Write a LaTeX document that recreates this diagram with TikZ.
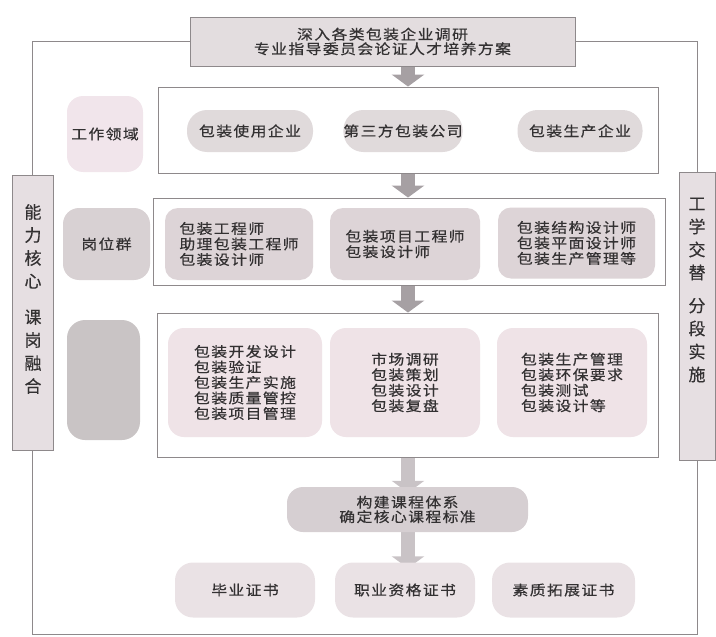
\documentclass[tikz,border=0pt]{standalone}
\usepackage{fontspec}
\setmainfont{Noto Sans CJK SC}
\newfontfamily\cjk[FakeStretch=1.13, LetterSpace=10, FakeBold=0.5]{Noto Sans CJK SC}
\newfontfamily\vcjk[FakeBold=0.4]{Noto Sans CJK SC}
\usetikzlibrary{arrows.meta,backgrounds}
\definecolor{txt}{HTML}{333132}
\definecolor{edge}{HTML}{8E898B}
\definecolor{topfill}{HTML}{E3DDDF}
\definecolor{sidefill}{HTML}{E6DFE2}
\definecolor{pinklab}{HTML}{F1E5EB}
\definecolor{pillgray}{HTML}{E0DADB}
\definecolor{graylab}{HTML}{D8D1D3}
\definecolor{rowtwo}{HTML}{DDD4D7}
\definecolor{darklab}{HTML}{C9C4C5}
\definecolor{rowthree}{HTML}{EFE3E7}
\definecolor{buildfill}{HTML}{D6CFD2}
\definecolor{certfill}{HTML}{EAE2E5}
\definecolor{arrowc}{HTML}{A6A0A3}
\definecolor{arrowl}{HTML}{C9C3C6}
\tikzset{
  base/.style={inner sep=0pt, text=txt, font=\cjk\fontsize{14}{15.5}\selectfont, align=center},
  framebox/.style={base, draw=edge, line width=0.9pt, fill=white},
  topbox/.style={base, draw=edge, line width=0.9pt, fill=topfill},
  sidebox/.style={base, draw=edge, line width=0.9pt, fill=sidefill},
  vlab/.style={inner sep=0pt, text=txt, font=\vcjk\fontsize{17}{23}\selectfont, align=center},
  pill/.style={base, fill=pillgray, rounded corners=20pt},
  labbox/.style={base, rounded corners=16pt},
  rowbox/.style={base, rounded corners=13pt, align=left},
  frameline/.style={draw=edge, line width=0.9pt},
  blockarrow/.style={draw=arrowc, line width=14pt, -{Triangle[width=32pt,length=12pt]}},
  lightarrow/.style={draw=arrowl, line width=14pt, -{Triangle[width=32pt,length=12pt]}}
}
\begin{document}
\begin{tikzpicture}[x=1pt,y=-1pt]
\useasboundingbox (0,0) rectangle (716,637);
\coordinate (ax) at (408,0);
\coordinate (bot) at (0,634);

% top box
\node[topbox, minimum width=385pt, minimum height=49pt] (top) at (382.5,41.5)
  {深入各类包装企业调研\\[-1pt]专业指导委员会论证人才培养方案};

% side boxes
\node[sidebox, minimum width=41pt, minimum height=275pt] (lbox) at (32.5,312.5) {};
\node[sidebox, minimum width=36pt, minimum height=288pt] (rbox) at (697,316) {};
\node[vlab] (ltxt) at (33,299) {能\\力\\核\\心\\[13pt]课\\岗\\融\\合};
\node[vlab] (rtxt) at (697,290) {工\\学\\交\\替\\[10pt]分\\段\\实\\施};

% row 1
\node[framebox, minimum width=500pt, minimum height=86pt] (r1) at (408,130) {};
\node[labbox, fill=pinklab, minimum width=76pt, minimum height=76pt] (lab1) at (105,134) {工作领域};
\node[pill, minimum width=126pt, minimum height=42pt] (p11) at (250,131) {包装使用企业};
\node[pill, minimum width=116pt, minimum height=42pt] (p12) at (403,131) {第三方包装公司};
\node[pill, minimum width=125pt, minimum height=42pt] (p13) at (580,131) {包装生产企业};

% row 2
\node[framebox, minimum width=512pt, minimum height=87pt] (r2) at (409,241.5) {};
\node[labbox, fill=graylab, minimum width=87pt, minimum height=72pt] (lab2) at (106.5,244) {岗位群};
\node[rowbox, fill=rowtwo, minimum width=148pt, minimum height=72pt] (b21) at (239,244)
  {包装工程师\\助理包装工程师\\包装设计师};
\node[rowbox, fill=rowtwo, minimum width=150pt, minimum height=72pt] (b22) at (405,244)
  {包装项目工程师\\包装设计师};
\node[rowbox, fill=rowtwo, minimum width=157pt, minimum height=71pt] (b23) at (576.5,243)
  {包装结构设计师\\包装平面设计师\\包装生产管理等};

% row 3
\node[framebox, minimum width=501pt, minimum height=144pt] (r3) at (407.5,385) {};
\node[labbox, fill=darklab, minimum width=73pt, minimum height=120pt, rounded corners=18pt] (lab3) at (103.5,380) {};
\node[rowbox, fill=rowthree, minimum width=154pt, minimum height=109pt, rounded corners=16pt] (b31) at (245,382.5)
  {包装开发设计\\包装验证\\包装生产实施\\包装质量管控\\包装项目管理};
\node[rowbox, fill=rowthree, minimum width=150pt, minimum height=109pt, rounded corners=16pt] (b32) at (405,382.5)
  {市场调研\\包装策划\\包装设计\\包装复盘};
\node[rowbox, fill=rowthree, minimum width=150pt, minimum height=109pt, rounded corners=16pt] (b33) at (572,382.5)
  {包装生产管理\\包装环保要求\\包装测试\\包装设计等};

% build box
\node[labbox, fill=buildfill, minimum width=241pt, minimum height=45pt] (k) at (407.5,509.5)
  {构建课程体系\\[-1pt]确定核心课程标准};

% certificates
\node[labbox, fill=certfill, minimum width=140pt, minimum height=55pt, rounded corners=18pt] (c1) at (245,590) {毕业证书};
\node[labbox, fill=certfill, minimum width=140pt, minimum height=55pt, rounded corners=18pt] (c2) at (405,590) {职业资格证书};
\node[labbox, fill=certfill, minimum width=143pt, minimum height=55pt, rounded corners=18pt] (c3) at (563.5,590) {素质拓展证书};

% frame lines and arrows behind
\begin{pgfonlayer}{background}
\draw[frameline] (top.west) -| (lbox.north);
\draw[frameline] (top.east) -| (rbox.north);
\draw[frameline] (lbox.south) |- (rbox.south |- bot) -- (rbox.south);
\draw[blockarrow] (top.south -| ax) -- (r1.north -| ax);
\draw[blockarrow] (r1.south -| ax) -- (r2.north -| ax);
\draw[blockarrow] (r2.south -| ax) -- (r3.north -| ax);
\draw[lightarrow, shorten >=-6pt] (r3.south -| ax) -- (k.north -| ax);
\draw[lightarrow, shorten >=-6pt] (k.south -| ax) -- (c2.north -| ax);
\end{pgfonlayer}
\end{tikzpicture}
\end{document}
